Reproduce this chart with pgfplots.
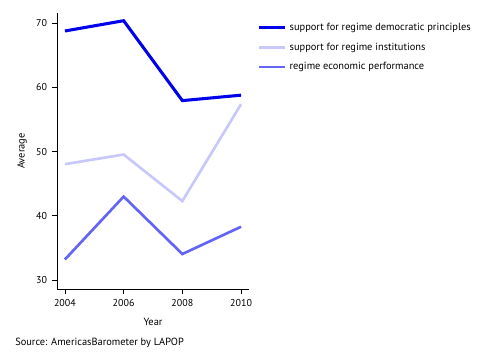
\documentclass[border=0pt]{standalone}
\usepackage{fontspec}
\setmainfont{PT Sans}
\usepackage{pgfplots}
\pgfplotsset{compat=1.18}
\definecolor{cA}{RGB}{0,0,235}
\definecolor{cB}{RGB}{200,200,250}
\definecolor{cC}{RGB}{100,100,245}
\begin{document}
\begin{tikzpicture}[x=0.75pt,y=0.75pt]
\path[use as bounding box] (-57,-75) rectangle (443,289);
\begin{axis}[
  at={(0,0)}, anchor=south west,
  scale only axis, width=144pt, height=207pt,
  xmin=2003.73, xmax=2010.27, ymin=28.6, ymax=71.6,
  axis lines*=left, axis line style={-, line width=0.6pt},
  xtick={2004,2006,2008,2010}, ytick={30,40,50,60,70},
  xticklabel style={/pgf/number format/1000 sep=},
  /pgf/number format/assume math mode=true,
  tick align=outside, major tick length=4pt,
  tick style={line width=0.6pt, black},
  ticklabel style={font=\fontsize{7.5}{8.5}\selectfont},
  label style={font=\fontsize{7.8}{9}\selectfont},
  xlabel={Year}, ylabel={Average},
  xlabel style={yshift=-2pt},
  legend style={at={(1,1)}, anchor=north west, xshift=6pt, yshift=-5.5pt, draw=none, fill=none,
    font=\fontsize{7.8}{9}\selectfont, row sep=3.6pt, inner sep=0pt},
  legend cell align=left,
  legend image code/.code={\draw[#1] (0pt,0pt) -- (20pt,0pt);},
]
\addplot[cA, line width=2.3pt] coordinates {(2004,68.8) (2006,70.4) (2008,57.95) (2010,58.8)};
\addlegendentry{support for regime democratic principles}
\addplot[cB, line width=2pt] coordinates {(2004,48.05) (2006,49.55) (2008,42.3) (2010,57.4)};
\addlegendentry{support for regime institutions}
\addplot[cC, line width=2pt] coordinates {(2004,33.2) (2006,43.0) (2008,34.05) (2010,38.3)};
\addlegendentry{regime economic performance}
\end{axis}
\node[anchor=west, font=\fontsize{7.8}{9}\selectfont, inner sep=0pt] at (-42,-54) {Source: AmericasBarometer by LAPOP};
\end{tikzpicture}
\end{document}
